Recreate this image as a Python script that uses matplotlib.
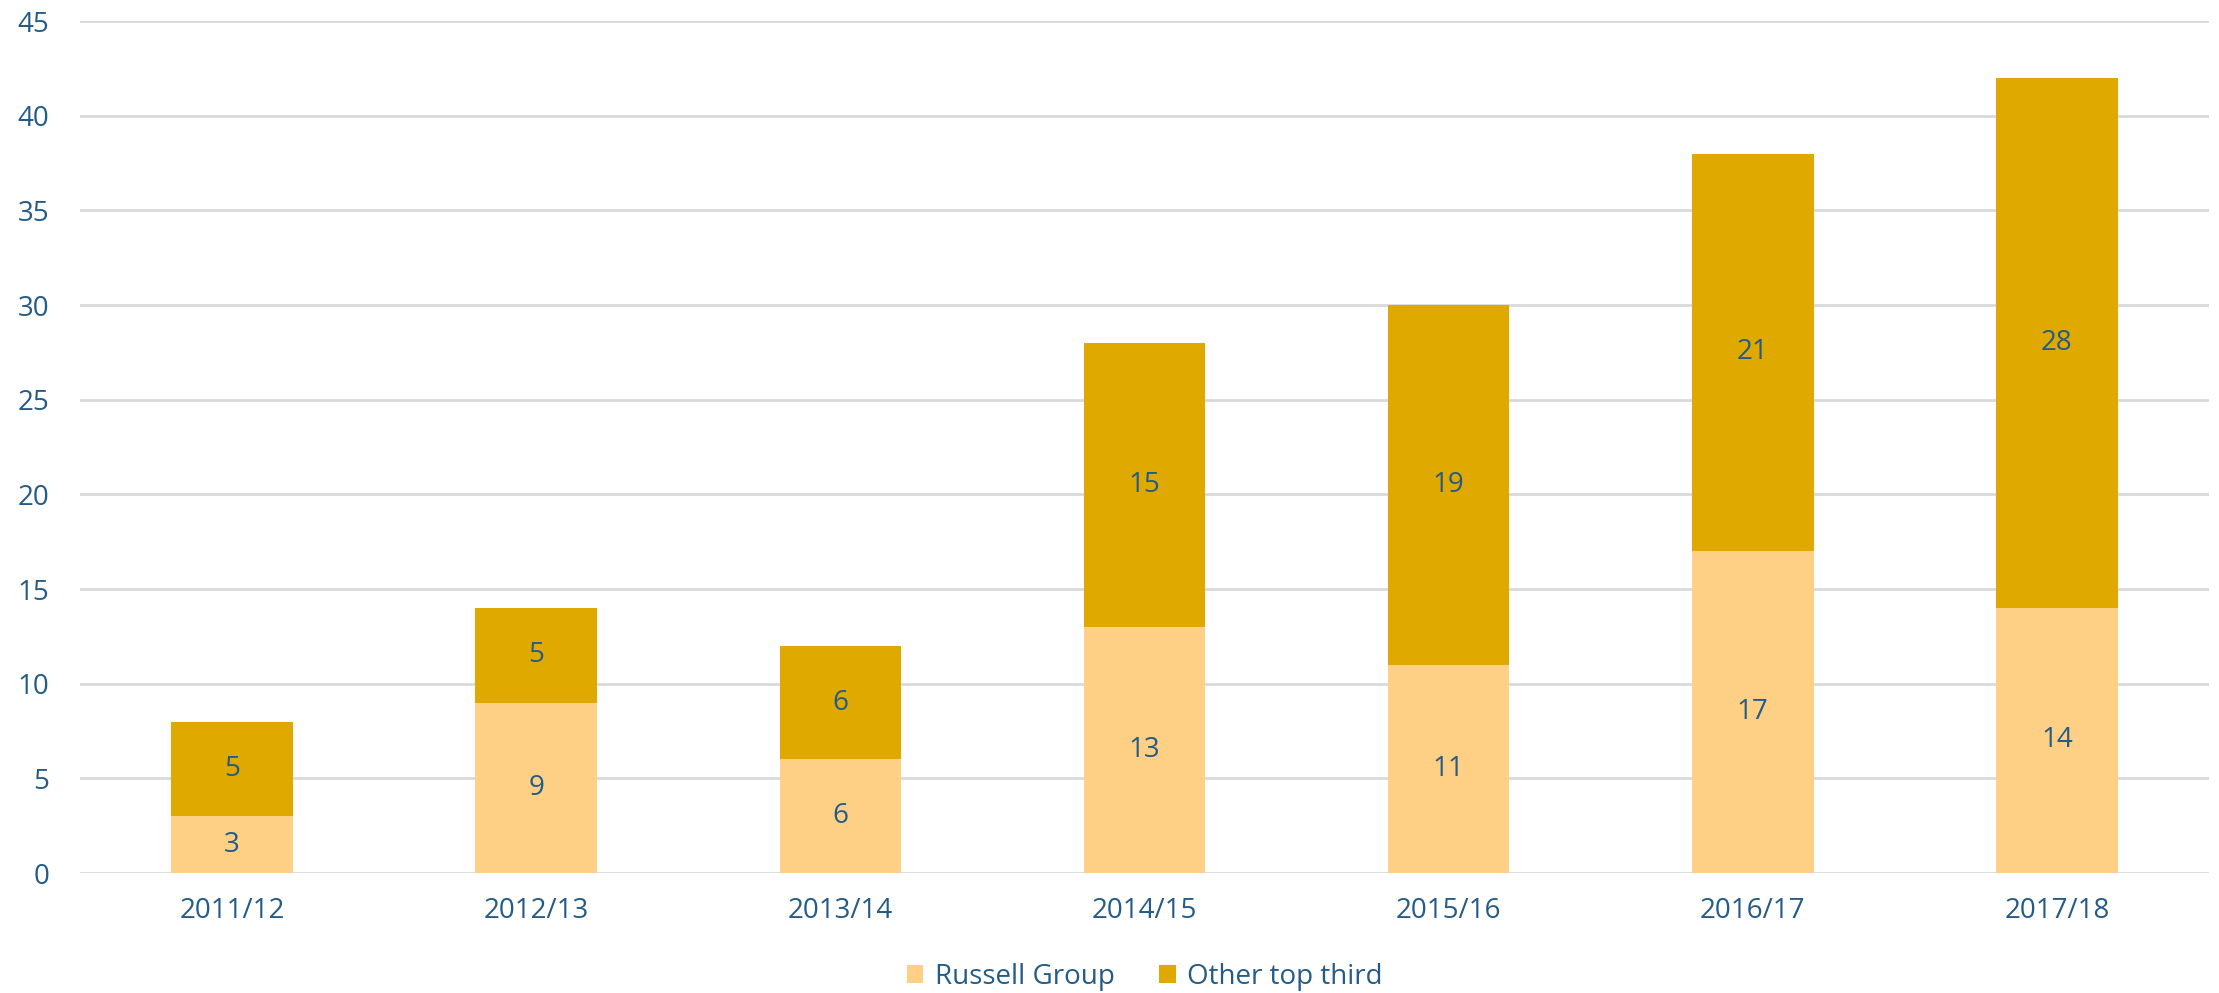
import matplotlib.pyplot as plt
import numpy as np

years = ["2011/12", "2012/13", "2013/14", "2014/15", "2015/16", "2016/17", "2017/18"]
russell = [3, 9, 6, 13, 11, 17, 14]
other = [5, 5, 6, 15, 19, 21, 28]

light = "#FDD085"
dark = "#E0A900"
txt = "#245B87"

plt.rcParams["font.family"] = ["Open Sans", "DejaVu Sans"]

fig = plt.figure(figsize=(22.19, 9.93), dpi=100)
ax = fig.add_axes([80 / 2219, 1 - 873 / 993, (2209 - 80) / 2219, (873 - 21) / 993])

x = np.arange(len(years))
b1 = ax.bar(x, russell, width=0.4, color=light, label="Russell Group", zorder=3)
b2 = ax.bar(x, other, width=0.4, bottom=russell, color=dark, label="Other top third", zorder=3)
ax.bar_label(b1, label_type="center", color=txt, fontsize=20)
ax.bar_label(b2, label_type="center", color=txt, fontsize=20)

ax.set_xlim(-0.5, len(years) - 0.5)
ax.set_ylim(0, 45)
ax.set_yticks(range(0, 46, 5))
ax.set_xticks(x)
ax.set_xticklabels(years)
ax.grid(axis="y", color="#D9D9D9", linewidth=2, zorder=0)
for s in ax.spines.values():
    s.set_visible(False)
ax.tick_params(length=0, colors=txt, labelsize=20)
ax.tick_params(axis="y", pad=22)
ax.tick_params(axis="x", pad=17)
for lab in ax.get_yticklabels():
    lab.set_horizontalalignment("right")

ax.legend(loc="center", bbox_to_anchor=(0.5, -0.122), ncol=2, frameon=False,
          fontsize=20, labelcolor=txt, handlelength=0.6, handleheight=0.6,
          handletextpad=0.4, columnspacing=1.6)

fig.savefig("out.png", dpi=100)
